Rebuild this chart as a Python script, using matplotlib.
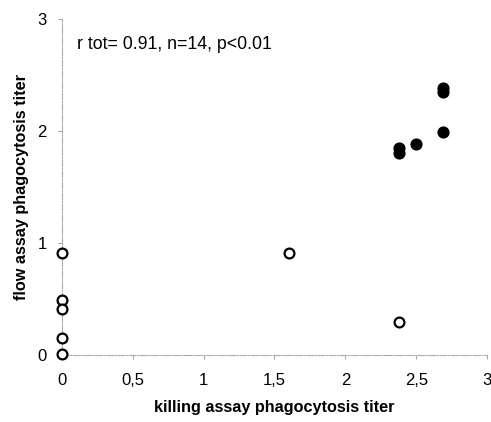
import matplotlib
matplotlib.use("Agg")
import matplotlib.pyplot as plt

plt.rcParams['font.family'] = ['Liberation Sans', 'DejaVu Sans']

open_x = [0, 0, 0, 0, 0, 1.6, 2.38]
open_y = [0.91, 0.49, 0.41, 0.15, 0.01, 0.91, 0.29]
filled_x = [2.38, 2.38, 2.5, 2.69, 2.69, 2.69]
filled_y = [1.845, 1.805, 1.88, 1.99, 2.385, 2.35]
x_ticks = [0, 0.5, 1, 1.5, 2, 2.5, 3]
x_tick_labels = ['0', '0,5', '1', '1,5', '2', '2,5', '3']
y_ticks = [0, 1, 2, 3]
y_tick_labels = ['0', '1', '2', '3']
annotation = 'r tot= 0.91, n=14, p<0.01'

fig = plt.figure(figsize=(4.91, 4.22), dpi=100)
ax = fig.add_axes([0.126, 0.159, 0.866, 0.796])

ax.scatter(open_x, open_y, s=50, facecolors='white', edgecolors='black', linewidths=1.6, zorder=3, clip_on=False)
ax.scatter(filled_x, filled_y, s=60, facecolors='black', edgecolors='black', linewidths=1.0, zorder=3, clip_on=False)

ax.set_xlim(0, 3)
ax.set_ylim(0, 3)
ax.set_xticks(x_ticks)
ax.set_xticklabels(x_tick_labels)
ax.set_yticks(y_ticks)
ax.set_yticklabels(y_tick_labels)

for s in ['top', 'right']:
    ax.spines[s].set_visible(False)
for s in ['left', 'bottom']:
    ax.spines[s].set_color('#aaaaaa')
    ax.spines[s].set_linewidth(0.8)
    ax.spines[s].set_linestyle((0, (6, 1.5, 1, 1.5)))

ax.tick_params(axis='both', colors='#aaaaaa', labelcolor='black', labelsize=12, length=3, width=0.8, direction='out')
ax.tick_params(axis='x', pad=10)
ax.tick_params(axis='y', pad=8)

ax.text(0.11, 2.77, annotation, fontsize=12.8, color='black', va='center', ha='left')

ax.set_xlabel('killing assay phagocytosis titer', fontsize=11.7, fontweight='bold', labelpad=9)
ax.set_ylabel('flow assay phagocytosis titer', fontsize=11.7, fontweight='bold', labelpad=6)

fig.savefig('out.png', dpi=100, facecolor='white')
